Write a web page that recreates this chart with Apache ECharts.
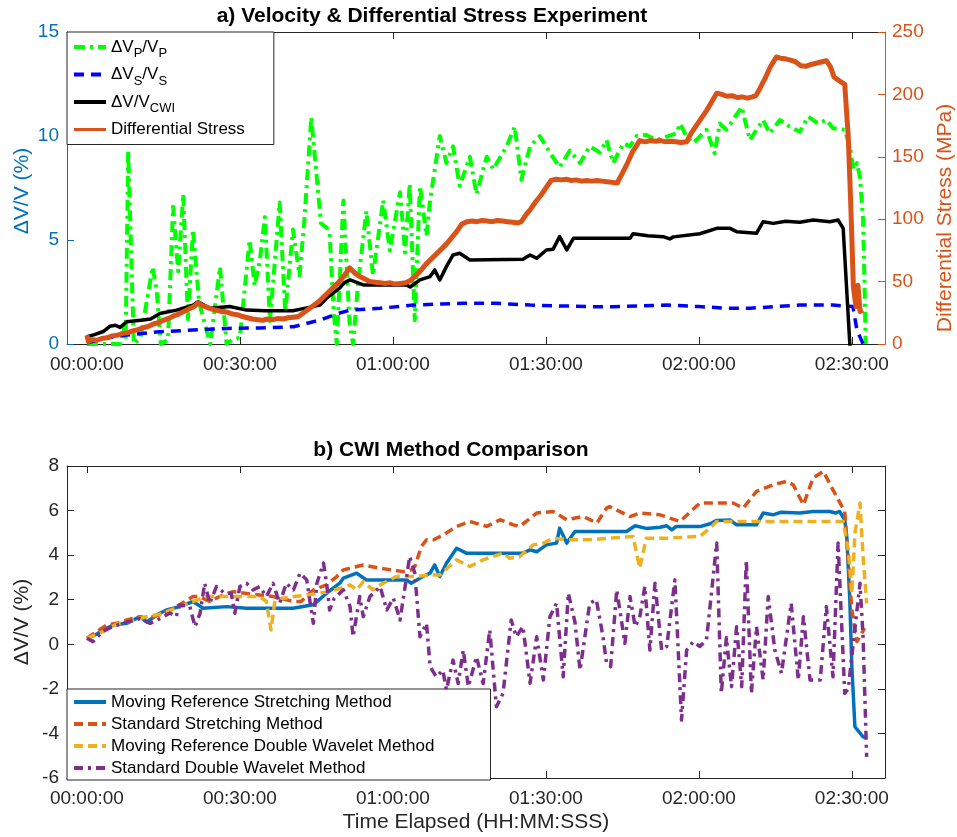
<!DOCTYPE html>
<html>
<head>
<meta charset="utf-8">
<script src="https://cdn.jsdelivr.net/npm/echarts@6/dist/echarts.min.js"></script>
<style>
html, body { margin: 0; padding: 0; background: #fff; }
#chart { width: 957px; height: 837px; }
</style>
</head>
<body>
<div id="chart"></div>
<script>
// ---- time axis (minutes elapsed) ----
const timeTicks = [0, 30, 60, 90, 120, 150];
const timeMin = -3.9;
const timeMax = 156.5;

// ---- panel a: velocity changes (%) ----
const vpTime = [0, 6.5, 7.2, 7.6, 8.1, 9.2, 10.5, 12.9, 13.7, 14.5, 15.9, 16.9, 17.9, 18.9, 19.8, 20.8, 22, 23.3, 24.2, 26.1, 27.4, 28.5, 30, 31.9, 32.9, 33.9, 34.9, 35.9, 37.8, 38.9, 40.4, 41.7, 42.6, 44, 45, 45.9, 47, 47.6, 48.4, 49, 50.3, 51.5, 52.2, 53.2, 54.8, 56.1, 58.1, 59.4, 61.4, 62.4, 63.3, 64.3, 65.3, 66.6, 67.3, 69.2, 70.5, 71.8, 73.1, 75.1, 76.4, 78.4, 79.7, 82.3, 83.9, 85.2, 86.9, 88.8, 90.8, 92.7, 94.7, 96.7, 98.6, 100.6, 101.9, 103.2, 105.2, 106.5, 107.8, 109.7, 111.7, 113.7, 115.6, 116.3, 117.6, 118.9, 121.5, 123.1, 124.1, 125.4, 128.4, 130, 131.3, 132.6, 133.9, 135.9, 137.8, 139.8, 141.4, 143.4, 145, 146.3, 148.6, 149.6, 150.3, 151, 151.6, 152.2, 152.5, 152.7];
const vpValue = [0, 0, 0.8, 0.2, 9.3, 0, 0.3, 3.7, 2.5, 0, 0.2, 6.6, 3.5, 7.2, 1.2, 5.5, 2, 0.8, 0, 3.7, 0, 0.2, 0.3, 5, 2.8, 4.0, 6.1, 1.1, 6.8, 1.5, 5.5, 3.3, 5.8, 10.9, 8.2, 5.8, 5.6, 5.3, 1.5, 0, 6.9, 1, 0, 3, 6.4, 3.3, 6.9, 4.5, 7.3, 4.4, 7.7, 1.15, 7.6, 5.2, 6.9, 10, 8.7, 9.5, 7.6, 9, 7.2, 9, 8.4, 9.5, 10.45, 7.9, 9.5, 10, 9.2, 8.5, 9.3, 8.7, 9.5, 9.2, 9.8, 8.7, 9.65, 9.5, 10, 10.05, 9.8, 9.97, 10.13, 10.6, 9.97, 9.65, 10.3, 9.17, 10.6, 10.3, 11.4, 9.8, 10.3, 10.77, 10.13, 10.77, 10.45, 10.2, 10.93, 10.6, 10.77, 10.37, 10.3, 9.5, 8.4, 8.7, 8.0, 6.0, 2.75, 0];

const vsTime = [0, 3, 7.8, 14.3, 20.8, 27.4, 33.9, 40.5, 45.7, 49, 51.6, 57.5, 64, 73.8, 80.3, 86.9, 93, 100, 103.2, 113.7, 120, 125.4, 130, 134.5, 139.8, 146.3, 150.2, 151, 152.2];
const vsValue = [0.05, 0.25, 0.43, 0.59, 0.67, 0.75, 0.77, 0.83, 1.15, 1.45, 1.63, 1.72, 1.87, 1.96, 1.96, 1.87, 1.83, 1.79, 1.79, 1.87, 1.8, 1.72, 1.72, 1.79, 1.87, 1.87, 1.8, 0.67, 0.0];

const cwiTime = [0, 1.5, 3.2, 4.5, 5.6, 6.5, 7.8, 11, 12.5, 14.3, 17.6, 20.8, 21.8, 24.1, 28, 31.3, 35, 40.4, 42.4, 45.7, 47, 49.6, 50.5, 51.6, 54.2, 62.7, 63.4, 65.3, 67.3, 68.2, 69.2, 70.5, 71.8, 73.1, 75.1, 85.5, 86.9, 88.2, 90.1, 91.4, 92.7, 94.1, 95.4, 106.5, 107.1, 110, 113, 114.3, 115, 120.2, 123.5, 126.1, 127.4, 131.3, 132.6, 134.6, 137, 139.8, 142.4, 145.7, 147.3, 148.3, 149.6, 150];
const cwiValue = [0.35, 0.45, 0.6, 0.85, 0.9, 0.8, 1.07, 1.15, 1.2, 1.47, 1.63, 1.87, 2.03, 1.72, 1.8, 1.63, 1.6, 1.6, 1.7, 1.87, 2.2, 2.7, 2.95, 3.08, 2.84, 2.84, 2.74, 3.08, 3.24, 3.56, 3.08, 3.72, 4.28, 4.36, 4.04, 4.07, 4.28, 4.12, 4.52, 4.55, 5.16, 4.52, 5.08, 5.08, 5.3, 5.2, 5.16, 5.05, 5.15, 5.3, 5.56, 5.56, 5.4, 5.32, 5.88, 5.8, 5.9, 5.85, 5.96, 5.88, 5.96, 5.56, 0, -1];

// ---- panel a: differential stress (MPa) ----
const stressTime = [0, 0.3, 1, 2, 3, 4, 5, 6, 7, 8, 9, 10, 11, 12, 13, 14, 15, 16, 17, 18, 19, 20, 21, 21.8,
  22.5, 23.5, 24.5, 25.5, 26.5, 27.5, 28.5, 29.5, 30.5, 31.5, 32.5, 33.5, 34.5, 35.5, 36.5, 37.5, 38.5, 39.5, 40.5, 41.5,
  42.5, 43.5, 44.5, 45.5, 46.5, 47.5, 48.5, 49.5, 50.5, 51.5, 52.5, 53.5, 54.5, 55.5, 56.5, 57.5, 58.5, 59.5, 60.5, 61.5, 62.5, 63.5,
  64.5, 65.5, 66.5, 67.5, 68.5, 69.5, 70.5, 71.5, 72.5, 73.5, 74.5, 75.5, 76.5, 77.5, 78.5, 79.5, 80.5, 81.5, 82.5, 83.5, 84.5, 85.2,
  86, 87, 88, 89, 90, 91, 92, 93, 94, 95, 96, 97, 98, 99, 100, 101, 102, 103, 104,
  105, 106, 107, 108.4, 109.5, 110.5, 111.5, 112.5, 113.5, 114.5, 115.5, 116.5, 117.6,
  118.5, 119.5, 120.5, 121.5, 122.5, 123.5, 124.5, 125.5, 126.5, 127.5, 128.5, 129.5, 130.5, 131.2,
  132, 133, 134, 135.2, 136, 137, 138, 139, 140, 141, 142, 143, 144, 145, 145.8, 146.5, 147.5, 148.6,
  149.3, 149.8, 150.3, 150.8, 151.2, 151.6, 152.2];
const stressValue = [7, 2, 3.5, 3, 4.5, 5, 6.5, 7, 8.5, 9, 10.5, 11.5, 13, 14, 16, 17, 19, 20.5, 22.5, 24, 26, 28, 30, 33,
  31, 29.5, 28, 27, 26, 25.5, 24, 23.5, 22, 21, 20, 19.5, 19, 20, 19.5, 20.5, 20, 21, 21.5, 22,
  25, 28, 31, 34, 38, 42, 46, 50, 55, 61, 57, 54, 52, 50, 49.5, 49, 48.5, 49, 48, 48.5, 49, 51,
  55, 59, 64, 68, 72, 76, 80, 85, 90, 96, 98, 98.5, 98, 99, 98.5, 98, 99, 98.5, 98, 97.5, 97, 98,
  103, 108, 114, 119, 125, 131, 132, 131.5, 132, 131, 131.5, 130.5, 131, 130.5, 131, 130.5, 130, 129.5, 129,
  137, 145, 154, 163, 162, 163, 162.5, 163, 162, 162.5, 162, 161.5, 162,
  169, 175, 181, 187, 194, 201, 200, 198.5, 199, 197.5, 198, 197, 198, 199,
  205, 213, 222, 230, 229, 228.5, 227.5, 226, 223, 222.5, 224, 225, 226, 227, 222, 214, 211, 208,
  166, 110, 46, 30, 47, 26, 27];

// ---- panel b: CWI method comparison (%) ----
const mrsTime = [0, 1.5, 3.2, 5.2, 7.8, 10.4, 11.7, 14.3, 15.6, 18.2, 20.8, 22.8, 27.4, 31.3, 40.4, 44.4, 47, 49.6, 50.3, 52.9, 54.8, 62.7, 63.6, 65.9, 67.3, 68.2, 69.2, 70.5, 72.5, 74.4, 85.5, 86.9, 88.2, 90.1, 92.1, 92.7, 94.1, 95.7, 105.8, 107.5, 109.7, 112.4, 113.7, 114.7, 115.5, 120.2, 122.2, 123.5, 126.1, 127.4, 131.3, 132.6, 134.5, 136, 139.8, 142.4, 145.7, 146.8, 147.6, 148.6, 149, 149.6, 150, 150.6, 152.2, 152.9];
const mrsValue = [0.27, 0.4, 0.64, 0.87, 0.94, 1.24, 1.0, 1.39, 1.54, 1.69, 1.92, 1.62, 1.69, 1.62, 1.62, 1.77, 2.29, 2.74, 2.97, 3.19, 2.89, 2.89, 2.74, 3.04, 3.19, 3.56, 3.04, 3.64, 4.31, 4.09, 4.09, 4.24, 4.15, 4.46, 4.54, 5.21, 4.54, 5.06, 5.06, 5.32, 5.2, 5.25, 5.32, 5.13, 5.28, 5.28, 5.41, 5.56, 5.58, 5.36, 5.36, 5.89, 5.81, 5.92, 5.89, 5.96, 5.96, 5.89, 5.96, 5.59, 4.84, 1.99, -1.0, -3.7, -4.15, -4.2];

const ssTime = [0, 1.9, 3.9, 5.8, 7.8, 10.4, 12, 14.3, 16.3, 18.2, 20.8, 22, 24.1, 26.7, 28.7, 31, 36.5, 40.5, 42, 44.4, 47, 49, 50.3, 54.2, 57.5, 62, 63.6, 64.3, 65.6, 66.6, 68, 69.9, 72.5, 75.1, 78.4, 81, 83.6, 84.9, 88.2, 91.4, 94.1, 97.3, 100, 101.9, 102.5, 106.5, 108.4, 112.4, 116.3, 120.2, 124.1, 126.7, 128.7, 131.3, 134.6, 137.2, 138.5, 140.5, 142.4, 144.4, 146.3, 148.6, 149, 150, 151, 152.5];
const ssValue = [0.27, 0.57, 0.87, 0.94, 1.09, 1.24, 1.17, 1.32, 1.54, 1.77, 2.14, 2.14, 1.92, 2.22, 2.36, 2.29, 2.14, 1.92, 1.92, 2.44, 2.67, 3.04, 3.34, 3.56, 3.41, 3.26, 3.34, 3.49, 4.39, 4.69, 4.69, 4.91, 5.29, 5.51, 5.29, 5.59, 5.36, 5.29, 5.89, 5.96, 5.59, 5.74, 5.44, 6.11, 6.18, 5.73, 5.89, 5.81, 5.51, 6.34, 6.34, 6.34, 6.11, 6.86, 7.16, 7.31, 7.16, 6.26, 7.46, 7.76, 6.93, 5.96, 4.69, 1.54, 0.12, 0.72];

const mrdTime = [0, 3.2, 5.8, 7.8, 11.7, 14.3, 18.2, 20.8, 23.5, 28.7, 33.9, 35.2, 36.1, 36.9, 40.5, 43.7, 47, 49.6, 51.6, 52.9, 54.2, 56.1, 58.1, 60.7, 64.6, 67.3, 69.2, 72.5, 75.1, 77.7, 81.6, 82.9, 84.9, 87.5, 89.5, 91.4, 94.7, 98.6, 102.5, 107.1, 108.4, 109.7, 113.7, 120.2, 122.2, 123.5, 133.3, 139.8, 146.3, 148.3, 149.3, 150, 150.6, 151.6, 152.2, 152.9];
const mrdValue = [0.27, 0.57, 0.9, 1.0, 1.24, 1.35, 1.69, 1.92, 2.14, 2.14, 2.14, 1.92, 0.64, 2.0, 2.14, 2.22, 2.35, 2.5, 2.67, 2.44, 2.81, 2.44, 2.74, 3.04, 3.04, 3.11, 3.11, 3.79, 3.49, 3.79, 4.09, 3.86, 3.94, 4.46, 4.54, 4.76, 4.69, 4.69, 4.76, 4.84, 3.42, 4.76, 4.76, 4.84, 5.21, 5.51, 5.51, 5.51, 5.51, 5.51, 4.24, 2.29, 4.99, 6.34, 3.94, 1.84];

const sdTime = [0, 1.2, 3.2, 5.2, 7.8, 10.4, 12.4, 14.3, 16.3, 17.5, 18.2, 20.2, 21.2, 22.2, 23.1, 24.1, 25.4, 27, 28.3, 29, 30, 31.3, 32.6, 33.9, 35.2, 36.5, 37.8, 39.1, 40.5, 41.8, 43.1, 44.4, 45.1, 46.4, 47, 47.6, 48.5, 50.3, 51.6, 52.2, 53.5, 54.2, 55.5, 57.5, 58.8, 60.1, 61.4, 62, 63.3, 64.3, 65.3, 66.6, 67.3, 68.5, 69.8, 70.5, 71.8, 72.8, 73.8, 74.8, 76.4, 77.7, 79, 80.3, 81.6, 83.2, 84.2, 85.5, 86.9, 88.2, 89.5, 90.8, 92.1, 93.4, 94.4, 95.7, 96.7, 98.6, 99.9, 101.2, 101.9, 102.7, 103.9, 105.5, 106.5, 107.5, 108.4, 109.4, 110.4, 111.4, 112.7, 113.7, 115.3, 116.6, 117.6, 118.9, 120.2, 121.5, 123.5, 124.4, 125.4, 126.4, 127.4, 128.4, 129.3, 130.3, 131.3, 132.6, 133.6, 134.9, 136.2, 138.1, 139.5, 140.5, 141.8, 143.8, 145, 146.3, 147.3, 148.6, 149.3, 150.2, 151.6, 152.2, 152.9];
const sdValue = [0.27, 0.12, 0.6, 0.8, 1.0, 1.15, 0.94, 1.15, 1.4, 1.24, 1.77, 1.69, 0.79, 1.4, 2.74, 1.84, 2.59, 2.29, 2.29, 1.39, 2.59, 2.74, 2.44, 2.59, 2.14, 2.74, 1.84, 2.74, 2.44, 3.19, 2.89, 0.94, 2.74, 3.64, 2.74, 1.54, 2.07, 2.44, 1.69, 0.34, 2.14, 1.24, 2.14, 2.59, 1.54, 2.07, 1.09, 2.0, 3.94, 3.19, 0.34, 0.94, -1.0, -1.46, -1.16, -2.05, -0.71, -1.76, -0.26, -1.9, -0.56, -1.76, 0.64, -2.8, -2.2, 1.09, 0.34, 0.8, -1.75, 0.34, -1.6, 1.24, 1.84, -1.46, 2.29, 1.0, -1.16, 1.84, 2.0, 0.34, -0.85, -1.0, 2.44, 0.04, 2.14, 0.8, 1.2, 2.59, -0.26, 2.74, -0.26, -0.1, 2.89, -3.4, -0.26, 0.12, -0.1, 0.2, 4.54, -2.2, 0.3, -1.9, 0.79, -1.9, 3.79, -2.2, 0.79, -1.6, 2.14, -0.26, -1.3, 1.84, -1.6, 1.24, -1.6, -1.6, 1.69, -1.46, 4.54, -2.2, -2.0, -0.1, 2.74, 0.34, -5.05];

// ---- helpers ----
const FONT = '"Liberation Sans", Arial, Helvetica, sans-serif';
const AX = '#262626';
const BLUE_AX = '#0072BD';
const ORANGE = '#D95319';
const pairs = (t, v) => t.map((x, i) => [x, v[i]]);
const pad2 = n => (n < 10 ? '0' : '') + n;
const hms = v => pad2(Math.floor(v / 60)) + ':' + pad2(Math.round(v % 60)) + ':00';

function timeAxis(grid, pos, showLabels) {
  return {
    type: 'value', gridIndex: grid, position: pos, min: timeMin, max: timeMax,
    axisLine: { show: true, onZero: false, lineStyle: { color: AX, width: 1 } },
    axisTick: { show: true, inside: true, length: 7, customValues: timeTicks, lineStyle: { color: AX } },
    axisLabel: { show: showLabels, customValues: timeTicks, formatter: hms, color: AX, fontSize: 19, fontFamily: FONT, margin: 11 },
    splitLine: { show: false }
  };
}
function valueAxis(grid, pos, min, max, interval, color, showLabels, margin) {
  return {
    type: 'value', gridIndex: grid, position: pos, min: min, max: max, interval: interval,
    axisLine: { show: true, onZero: false, lineStyle: { color: color, width: 1 } },
    axisTick: { show: true, inside: true, length: 7, lineStyle: { color: color } },
    axisLabel: { show: showLabels, color: color, fontSize: 19, fontFamily: FONT, margin: margin },
    splitLine: { show: false }
  };
}
function line(name, t, v, xi, yi, color, width, type, z) {
  return {
    type: 'line', name: name, xAxisIndex: xi, yAxisIndex: yi, data: pairs(t, v),
    showSymbol: false, symbol: 'none', clip: true, z: z, animation: false,
    lineStyle: { color: color, width: width, type: type, join: 'round' },
    itemStyle: { color: color }
  };
}
// legend entry with a line sample as thick as the plotted line
const entry = (name, w) => ({ name: name, lineStyle: { width: w } });

const legendLabels = {
  'ΔVp/Vp': '{m|ΔV}{s|P}{m|/V}{s|P}',
  'ΔVs/Vs': '{m|ΔV}{s|S}{m|/V}{s|S}',
  'ΔV/Vcwi': '{m|ΔV/V}{s|CWI}',
  'Differential Stress': '{m|Differential Stress}'
};

const chart = echarts.init(document.getElementById('chart'), null, { renderer: 'canvas' });
chart.setOption({
  animation: false,
  backgroundColor: '#ffffff',
  textStyle: { fontFamily: FONT },
  grid: [
    { left: 67, top: 32, width: 818, height: 312, containLabel: false },
    { left: 67, top: 466, width: 818, height: 312, containLabel: false }
  ],
  xAxis: [
    timeAxis(0, 'bottom', true),
    timeAxis(0, 'top', false),
    timeAxis(1, 'bottom', true),
    timeAxis(1, 'top', false)
  ],
  yAxis: [
    valueAxis(0, 'left', 0, 15, 5, BLUE_AX, true, 8),
    valueAxis(0, 'right', 0, 250, 50, ORANGE, true, 7),
    valueAxis(1, 'left', -6, 8, 2, AX, true, 8),
    valueAxis(1, 'right', -6, 8, 2, AX, false, 7)
  ],
  legend: [
    {
      data: [entry('ΔVp/Vp', 4), entry('ΔVs/Vs', 4), entry('ΔV/Vcwi', 4), entry('Differential Stress', 3)],
      left: 67, top: 32, orient: 'vertical', selectedMode: false,
      itemWidth: 32, itemHeight: 14, itemGap: 1.5, padding: [2, 29, 2, 5],
      borderColor: AX, borderWidth: 1, borderRadius: 0, backgroundColor: '#ffffff',
      itemStyle: { opacity: 0, borderWidth: 0 },
      formatter: n => legendLabels[n],
      textStyle: {
        color: '#000', fontFamily: FONT, fontSize: 17, lineHeight: 26,
        rich: {
          m: { fontSize: 17, lineHeight: 26, verticalAlign: 'middle', color: '#000', fontFamily: FONT },
          s: { fontSize: 13, lineHeight: 9, verticalAlign: 'bottom', color: '#000', fontFamily: FONT }
        }
      }
    },
    {
      data: [entry('Moving Reference Stretching Method', 4), entry('Standard Stretching Method', 4),
             entry('Moving Reference Double Wavelet Method', 4), entry('Standard Double Wavelet Method', 4)],
      left: 67, top: 689, orient: 'vertical', selectedMode: false,
      itemWidth: 32, itemHeight: 14, itemGap: 0, padding: [2, 56, 1, 5],
      borderColor: AX, borderWidth: 1, borderRadius: 0, backgroundColor: '#ffffff',
      itemStyle: { opacity: 0, borderWidth: 0 },
      textStyle: { color: '#000', fontFamily: FONT, fontSize: 17, lineHeight: 22 }
    }
  ],
  series: [
    line('ΔVp/Vp', vpTime, vpValue, 0, 0, '#00FF00', 4, [11, 5, 3, 5], 2),
    line('ΔVs/Vs', vsTime, vsValue, 0, 0, '#0000FF', 3.5, [10, 7], 3),
    line('ΔV/Vcwi', cwiTime, cwiValue, 0, 0, '#000000', 3.5, 'solid', 4),
    line('Differential Stress', stressTime, stressValue, 0, 1, ORANGE, 5, 'solid', 5),
    line('Moving Reference Stretching Method', mrsTime, mrsValue, 2, 2, '#0072BD', 3.5, 'solid', 2),
    line('Standard Stretching Method', ssTime, ssValue, 2, 2, '#D95319', 3.5, [9, 5], 3),
    line('Moving Reference Double Wavelet Method', mrdTime, mrdValue, 2, 2, '#EDB120', 3.5, [9, 5], 4),
    line('Standard Double Wavelet Method', sdTime, sdValue, 2, 2, '#7E2F8E', 3.5, [9, 5, 3, 5], 5)
  ],
  graphic: [
    { type: 'text', x: 432, y: 16, z: 100, style: { text: 'a) Velocity & Differential Stress Experiment', fill: '#000', font: 'bold 21px ' + FONT, align: 'center', verticalAlign: 'middle' } },
    { type: 'text', x: 451, y: 450, z: 100, style: { text: 'b) CWI Method Comparison', fill: '#000', font: 'bold 21px ' + FONT, align: 'center', verticalAlign: 'middle' } },
    { type: 'text', x: 22, y: 191, rotation: Math.PI / 2, z: 100, style: { text: 'ΔV/V (%)', fill: BLUE_AX, font: '21px ' + FONT, align: 'center', verticalAlign: 'middle' } },
    { type: 'text', x: 945, y: 218, rotation: Math.PI / 2, z: 100, style: { text: 'Differential Stress (MPa)', fill: ORANGE, font: '21px ' + FONT, align: 'center', verticalAlign: 'middle' } },
    { type: 'text', x: 22, y: 622, rotation: Math.PI / 2, z: 100, style: { text: 'ΔV/V (%)', fill: AX, font: '21px ' + FONT, align: 'center', verticalAlign: 'middle' } },
    { type: 'text', x: 476, y: 822, z: 100, style: { text: 'Time Elapsed (HH:MM:SSS)', fill: AX, font: '21px ' + FONT, align: 'center', verticalAlign: 'middle' } }
  ]
});
</script>
</body>
</html>
